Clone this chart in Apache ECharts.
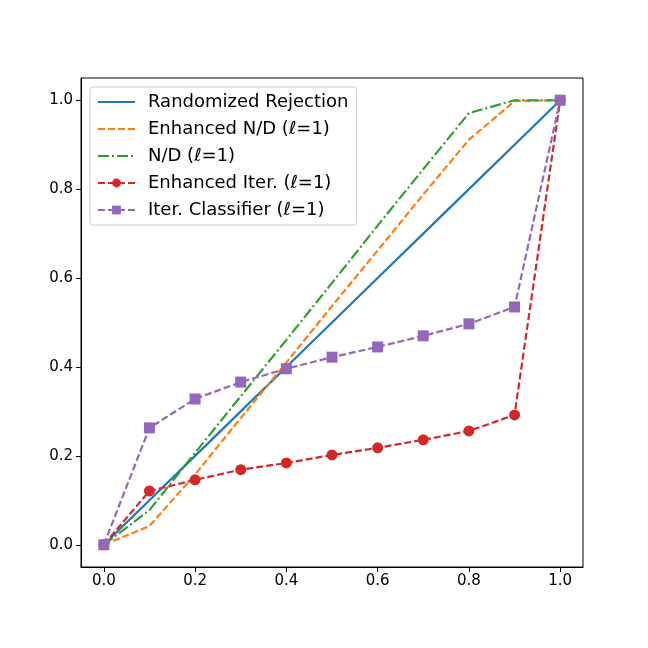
<!DOCTYPE html>
<html>
<head>
<meta charset="utf-8">
<script src="https://cdn.jsdelivr.net/npm/echarts@6/dist/echarts.min.js"></script>
<style>
  html, body { margin: 0; padding: 0; background: #fff; }
  #chart { width: 648px; height: 648px; }
</style>
</head>
<body>
<div id="chart"></div>
<script>
// x positions (fraction)
var xs = [0.0, 0.1, 0.2, 0.3, 0.4, 0.5, 0.6, 0.7, 0.8, 0.9, 1.0];

var randomizedRejection = [0.0, 0.1, 0.2, 0.3, 0.4, 0.5, 0.6, 0.7, 0.8, 0.9, 1.0];
var enhancedND = [0.0, 0.042, 0.158, 0.285, 0.41, 0.537, 0.662, 0.788, 0.911, 0.998, 1.0];
var nd = [0.0, 0.078, 0.207, 0.334, 0.461, 0.589, 0.718, 0.845, 0.971, 1.0, 1.0];
var enhancedIter = [0.0, 0.121, 0.146, 0.169, 0.184, 0.202, 0.218, 0.236, 0.256, 0.292, 1.0];
var iterClassifier = [0.0, 0.263, 0.328, 0.366, 0.396, 0.422, 0.445, 0.470, 0.497, 0.535, 1.0];

var tickVals = [0.0, 0.2, 0.4, 0.6, 0.8, 1.0];

function pairs(ys) {
    var out = [];
    for (var i = 0; i < xs.length; i++) {
        out.push([xs[i], ys[i]]);
    }
    return out;
}

var chart = echarts.init(document.getElementById('chart'));

var axisCommon = {
    type: 'value',
    min: -0.05,
    max: 1.05,
    splitLine: { show: false },
    axisLine: { show: true, onZero: false, lineStyle: { color: '#000', width: 1 } },
    axisTick: { show: true, customValues: tickVals, length: 5, lineStyle: { color: '#000' } },
    axisLabel: {
        customValues: tickVals,
        color: '#000',
        fontSize: 15,
        fontFamily: 'DejaVu Sans',
        formatter: function (v) { return v.toFixed(1); }
    }
};

var noMarker = { opacity: 0 };

var option = {
    animation: false,
    backgroundColor: '#fff',
    textStyle: { fontFamily: 'DejaVu Sans' },
    grid: {
        left: 81, right: 65, top: 78, bottom: 81,
        show: true, borderColor: '#000', borderWidth: 1
    },
    xAxis: echarts.util.merge({ axisLabel: { margin: 7 } }, axisCommon, true),
    yAxis: echarts.util.merge({ axisLabel: { margin: 8 } }, axisCommon, true),
    legend: {
        orient: 'vertical',
        left: 90,
        top: 87,
        padding: [5, 8, 5, 7],
        itemWidth: 37,
        itemHeight: 11,
        itemGap: 7,
        borderColor: '#cccccc',
        borderWidth: 1,
        borderRadius: 3,
        backgroundColor: '#fff',
        textStyle: { fontSize: 18, color: '#000', fontFamily: 'DejaVu Sans', lineHeight: 20, padding: [0, 0, 0, 8] },
        data: [
            { name: 'Randomized Rejection', itemStyle: noMarker },
            { name: 'Enhanced N/D (ℓ=1)', itemStyle: noMarker },
            { name: 'N/D (ℓ=1)', itemStyle: noMarker },
            { name: 'Enhanced Iter. (ℓ=1)' },
            { name: 'Iter. Classifier (ℓ=1)' }
        ]
    },
    series: [
        {
            name: 'Randomized Rejection',
            type: 'line',
            symbol: 'none',
            color: '#1f77b4',
            lineStyle: { width: 2.2, type: 'solid' },
            data: pairs(randomizedRejection)
        },
        {
            name: 'Enhanced N/D (ℓ=1)',
            type: 'line',
            symbol: 'none',
            color: '#ff7f0e',
            lineStyle: { width: 2.2, type: [7, 3] },
            data: pairs(enhancedND)
        },
        {
            name: 'N/D (ℓ=1)',
            type: 'line',
            symbol: 'none',
            color: '#2ca02c',
            lineStyle: { width: 2.2, type: [11, 3, 2, 3] },
            data: pairs(nd)
        },
        {
            name: 'Enhanced Iter. (ℓ=1)',
            type: 'line',
            symbol: 'circle',
            symbolSize: 11,
            color: '#d62728',
            lineStyle: { width: 2.2, type: [7, 3] },
            data: pairs(enhancedIter)
        },
        {
            name: 'Iter. Classifier (ℓ=1)',
            type: 'line',
            symbol: 'rect',
            symbolSize: 11,
            color: '#9467bd',
            lineStyle: { width: 2.2, type: [7, 3] },
            data: pairs(iterClassifier)
        }
    ]
};

chart.setOption(option);
</script>
</body>
</html>
